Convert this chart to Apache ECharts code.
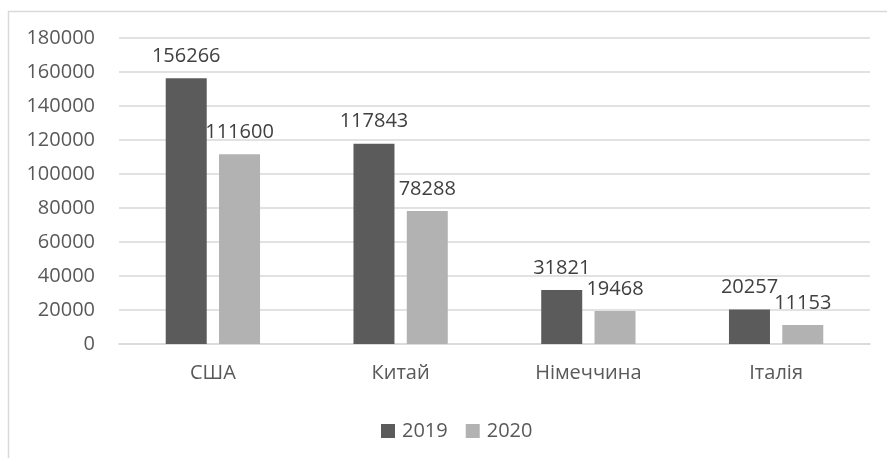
<!DOCTYPE html>
<html>
<head>
<meta charset="utf-8">
<script src="https://cdn.jsdelivr.net/npm/echarts@6/dist/echarts.min.js"></script>
<style>
html,body{margin:0;padding:0;background:#fff;}
#chart{width:887px;height:458px;}
</style>
</head>
<body>
<div id="chart"></div>
<script>
const categories = ['США', 'Китай', 'Німеччина', 'Італія'];
const values2019 = [156266, 117843, 31821, 20257];
const values2020 = [111600, 78288, 19468, 11153];
const seriesNames = ['2019', '2020'];

const FONT = '"Open Sans", sans-serif';
const chart = echarts.init(document.getElementById('chart'), null, {renderer: 'canvas'});
const labelStyle = {
  show: true, position: 'top', distance: 12,
  color: '#404040', fontSize: 20, fontFamily: FONT
};
chart.setOption({
  animation: false,
  backgroundColor: '#fff',
  graphic: [{
    type: 'rect', left: 6, top: 9, silent: true,
    shape: {width: 1000, height: 600},
    style: {fill: 'none', stroke: '#d9d9d9', lineWidth: 1.5}
  }],
  grid: {left: 119, right: 17, top: 38, bottom: 114},
  legend: {
    bottom: 17, left: 381, padding: 0,
    itemWidth: 14, itemHeight: 14, itemGap: 18,
    icon: 'rect',
    textStyle: {color: '#595959', fontSize: 20, fontFamily: FONT, padding: [0, 0, 0, 2]},
    data: seriesNames
  },
  xAxis: {
    type: 'category', data: categories,
    axisLine: {lineStyle: {color: '#d9d9d9', width: 1.5}},
    axisTick: {show: false},
    axisLabel: {color: '#595959', fontSize: 20, fontFamily: FONT, margin: 19}
  },
  yAxis: {
    type: 'value', min: 0, max: 180000, interval: 20000,
    axisLine: {show: false}, axisTick: {show: false},
    splitLine: {lineStyle: {color: '#d9d9d9', width: 1.5}},
    axisLabel: {color: '#595959', fontSize: 20, fontFamily: FONT, margin: 24,
      formatter: function (v) { return String(v); }}
  },
  series: [
    {name: seriesNames[0], type: 'bar', data: values2019, barWidth: 41, barGap: '30%',
     itemStyle: {color: '#5b5b5b'}, label: labelStyle},
    {name: seriesNames[1], type: 'bar', data: values2020, barWidth: 41,
     itemStyle: {color: '#b2b2b2'}, label: labelStyle}
  ]
});
</script>
</body>
</html>
